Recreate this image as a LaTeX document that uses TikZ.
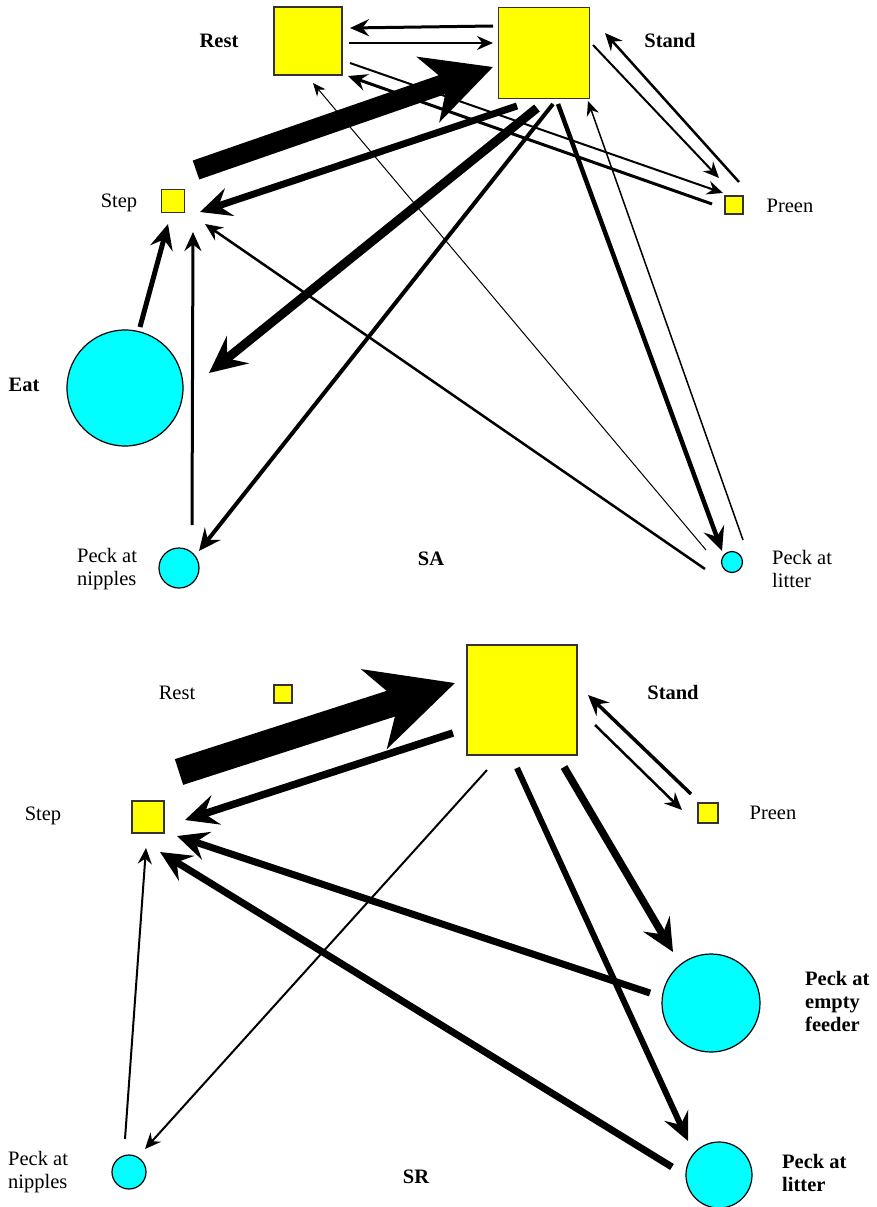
\documentclass[tikz,border=0pt]{standalone}
\usepackage{fontspec}
\setmainfont{Liberation Serif}
\usetikzlibrary{arrows.meta}
\definecolor{boxyellow}{HTML}{FFFF00}
\definecolor{dotcyan}{HTML}{00FFFF}
\definecolor{rim}{HTML}{333333}

\begin{document}
\begin{tikzpicture}[x=1pt, y=-1pt,
    sq/.style={draw=rim, line width=1.2pt, fill=boxyellow, inner sep=0pt, minimum size=#1},
    rnd/.style={draw=black, line width=1.2pt, fill=dotcyan, circle, inner sep=0pt, minimum size=#1},
    lab/.style={font=\fontsize{20.5}{23}\selectfont, inner sep=0pt},
    labb/.style={font=\fontsize{20.5}{23}\selectfont\bfseries, inner sep=0pt},
    ar/.style={line width=#1, -{Stealth[length=10pt 3, width=8pt 3, inset=3pt 1.2]}}]
  \useasboundingbox (0,0) rectangle (876,1207);

  % SA
  \node[sq=68pt] (rest1) at (308,41) {};
  \node[sq=91pt] (stand1) at (544,53) {};
  \node[sq=23pt] (step1) at (173,201) {};
  \node[sq=18pt] (preen1) at (734,205) {};
  \node[rnd=116pt] (eat1) at (125,388) {};
  \node[rnd=40pt] (nip1) at (179,568) {};
  \node[rnd=21pt] (lit1) at (732,562) {};
  \node[labb, anchor=base] (trest1) at (219,48) {Rest};
  \node[labb, anchor=base] (tstand1) at (670,48) {Stand};
  \node[lab, anchor=base] (tstep1) at (119,207) {Step};
  \node[lab, anchor=base] (tpreen1) at (790,212) {Preen};
  \node[labb, anchor=base] (teat1) at (24,391) {Eat};
  \node[lab, anchor=west, align=left] (tnip1) at (77,569) {Peck at\\nipples};
  \node[lab, anchor=west, align=left] (tlit1) at (772,569) {Peck at\\litter};
  \node[labb, anchor=base] (tsa) at (431,565) {SA};

  \draw[ar=3pt] ([shift={(-51,-27)}]stand1.center) -- ([shift={(42,-13)}]rest1.center);
  \draw[ar=2pt] ([shift={(41,2)}]rest1.center) -- ([shift={(-51,-10)}]stand1.center);
  \draw[line width=20pt, -{Stealth[length=68pt, width=68pt, inset=20pt]}]
    ([shift={(23,-31)}]step1.center) -- ([shift={(-51,14)}]stand1.center);
  \draw[ar=7pt] ([shift={(-27,53)}]stand1.center) -- ([shift={(27,11)}]step1.center);
  \draw[ar=9pt] ([shift={(-7,55)}]stand1.center) -- ([shift={(84,-15)}]eat1.center);
  \draw[ar=4pt] ([shift={(9,51)}]stand1.center) -- ([shift={(20,-17)}]nip1.center);
  \draw[ar=4.5pt] ([shift={(14,51)}]stand1.center) -- ([shift={(-10,-11)}]lit1.center);
  \draw[ar=1.5pt] ([shift={(11,-22)}]lit1.center) -- ([shift={(44,48)}]stand1.center);
  \draw[ar=1pt] ([shift={(-26,-12)}]lit1.center) -- ([shift={(5,42)}]rest1.center);
  \draw[ar=2.5pt] ([shift={(-27,7)}]lit1.center) -- ([shift={(32,23)}]step1.center);
  \draw[ar=2pt] ([shift={(42,22)}]rest1.center) -- ([shift={(-11,-12)}]preen1.center);
  \draw[ar=3pt] ([shift={(-22,-1)}]preen1.center) -- ([shift={(40,35)}]rest1.center);
  \draw[ar=2pt] ([shift={(49,-8)}]stand1.center) -- ([shift={(-15,-27)}]preen1.center);
  \draw[ar=2.5pt] ([shift={(5,-23)}]preen1.center) -- ([shift={(61,-20)}]stand1.center);
  \draw[ar=5pt] ([shift={(15,-61)}]eat1.center) -- ([shift={(-5,23)}]step1.center);
  \draw[ar=3pt] ([shift={(13,-43)}]nip1.center) -- ([shift={(20,31)}]step1.center);

  % SR
  \node[sq=18pt] (rest2) at (283,694) {};
  \node[sq=110pt] (stand2) at (522,700) {};
  \node[sq=32pt] (step2) at (148,817) {};
  \node[sq=20pt] (preen2) at (708,813) {};
  \node[rnd=98pt] (feed2) at (711,1003) {};
  \node[rnd=66pt] (lit2) at (719,1175) {};
  \node[rnd=34pt] (nip2) at (129,1172) {};
  \node[lab, anchor=base] (trest2) at (177,699) {Rest};
  \node[labb, anchor=base] (tstand2) at (673,699) {Stand};
  \node[lab, anchor=base] (tstep2) at (43,820) {Step};
  \node[lab, anchor=base] (tpreen2) at (773,819) {Preen};
  \node[labb, anchor=west, align=left] (tfeed2) at (805,1001) {Peck at\\empty\\feeder};
  \node[labb, anchor=west, align=left] (tlit2) at (782,1173) {Peck at\\litter};
  \node[lab, anchor=west, align=left] (tnip2) at (8,1172) {Peck at\\nipples};
  \node[labb, anchor=base] (tsr) at (416,1183) {SR};

  \draw[line width=27pt, -{Stealth[length=84pt, width=82pt, inset=25pt]}]
    ([shift={(31,-45)}]step2.center) -- ([shift={(-67,-17)}]stand2.center);
  \draw[ar=7.5pt] ([shift={(-69,33)}]stand2.center) -- ([shift={(37,3)}]step2.center);
  \draw[ar=2pt] ([shift={(-35,70)}]stand2.center) -- ([shift={(16,-23)}]nip2.center);
  \draw[ar=6pt] ([shift={(-5,68)}]stand2.center) -- ([shift={(-31,-34)}]lit2.center);
  \draw[ar=7.5pt] ([shift={(42,67)}]stand2.center) -- ([shift={(-38,-51)}]feed2.center);
  \draw[ar=2.5pt] ([shift={(73,25)}]stand2.center) -- ([shift={(-26,-3)}]preen2.center);
  \draw[ar=3.5pt] ([shift={(-17,-19)}]preen2.center) -- ([shift={(66,-5)}]stand2.center);
  \draw[ar=7pt] ([shift={(-61,-10)}]feed2.center) -- ([shift={(29,19)}]step2.center);
  \draw[ar=7pt] ([shift={(-47,-8)}]lit2.center) -- ([shift={(12,35)}]step2.center);
  \draw[ar=2pt] ([shift={(-4,-33)}]nip2.center) -- ([shift={(-2,31)}]step2.center);
\end{tikzpicture}
\end{document}
